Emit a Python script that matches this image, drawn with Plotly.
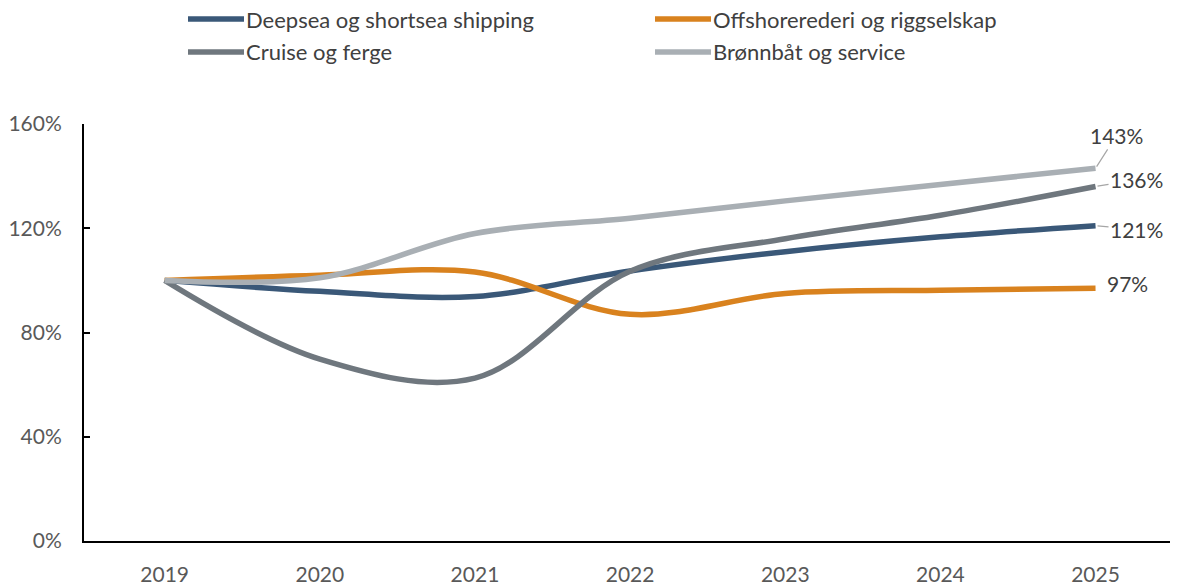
import plotly.graph_objects as go

years = [2019, 2020, 2021, 2022, 2023, 2024, 2025]
deepsea = [100, 95.8, 93.8, 103.6, 111, 116.7, 121]
offshore = [100, 102, 103.2, 87, 95, 96.2, 97]
cruise = [100, 69.8, 62.5, 103.5, 116, 125, 136]
bronnbat = [100, 101, 118, 123.8, 130.5, 136.8, 143]

names = ["Deepsea og shortsea shipping", "Offshorerederi og riggselskap",
         "Cruise og ferge", "Brønnbåt og service"]
series = [deepsea, offshore, cruise, bronnbat]
colors = ["#3A5878", "#D9821E", "#6F777E", "#A9AFB4"]
end_labels = ["121%", "97%", "136%", "143%"]

FONT = "Lato"
L, R, T, B = 84, 8, 124, 44
W, H = 1178, 585
PW, PH = W - L - R, H - T - B


def px_x(p):
    return (p - L) / PW


def px_y(p):
    return (H - B - p) / PH


fig = go.Figure()
for nm, ys, c in zip(names, series, colors):
    fig.add_trace(go.Scatter(
        x=years, y=ys, name=nm, mode="lines",
        line=dict(color=c, width=5.5, shape="spline", smoothing=1.0),
        showlegend=False,
    ))

# manual legend (2 x 2)
leg_pos = [(188, 19), (655, 19), (188, 52), (655, 52)]
for nm, c, (lx, ly) in zip(names, colors, leg_pos):
    fig.add_shape(type="line", xref="paper", yref="paper",
                  x0=px_x(lx), x1=px_x(lx + 56), y0=px_y(ly), y1=px_y(ly),
                  line=dict(color=c, width=5.5))
    fig.add_annotation(xref="paper", yref="paper", x=px_x(lx + 56), y=px_y(ly),
                       xanchor="left", yanchor="middle", text=nm,
                       showarrow=False,
                       font=dict(family=FONT, size=22, color="#404040"))

# end labels: (ax, ay, showarrow)
label_pos = [(41, 4, True), (32, -5, False), (41, -7, True), (21, -33, True)]
for ys, txt, (ax, ay, arr) in zip(series, end_labels, label_pos):
    if arr:
        fig.add_annotation(x=years[-1], y=ys[-1], text=txt, showarrow=True,
                           ax=ax, ay=ay, arrowhead=0, arrowwidth=1.2,
                           arrowcolor="#A6A6A6", standoff=2,
                           font=dict(family=FONT, size=21, color="#404040"))
    else:
        fig.add_annotation(x=years[-1], y=ys[-1], text=txt, showarrow=False,
                           xshift=ax, yshift=-ay,
                           font=dict(family=FONT, size=21, color="#404040"))

fig.update_layout(
    width=W, height=H,
    margin=dict(l=L, r=R, t=T, b=B, autoexpand=False),
    paper_bgcolor="white", plot_bgcolor="white",
    font=dict(family=FONT, size=20, color="#595959"),
    showlegend=False,
    xaxis=dict(range=[2018.48, 2025.48], tickvals=years,
               ticktext=[str(y) for y in years], showgrid=False,
               zeroline=False, showline=True, linecolor="black", linewidth=2,
               ticks="", ticklabelstandoff=14,
               tickfont=dict(family=FONT, size=21, color="#595959")),
    yaxis=dict(range=[0, 160], tickvals=[0, 40, 80, 120, 160],
               ticktext=["0%", "40%", "80%", "120%", "160%"],
               showgrid=False, zeroline=False, showline=True,
               linecolor="black", linewidth=2, ticks="inside", ticklen=6,
               tickwidth=2, tickcolor="black", ticklabelstandoff=16,
               tickfont=dict(family=FONT, size=21, color="#595959")),
)
fig.write_html("out.html", config={"displayModeBar": False},
               post_script="document.body.style.margin='0';"
                           "document.body.style.overflow='hidden';")
